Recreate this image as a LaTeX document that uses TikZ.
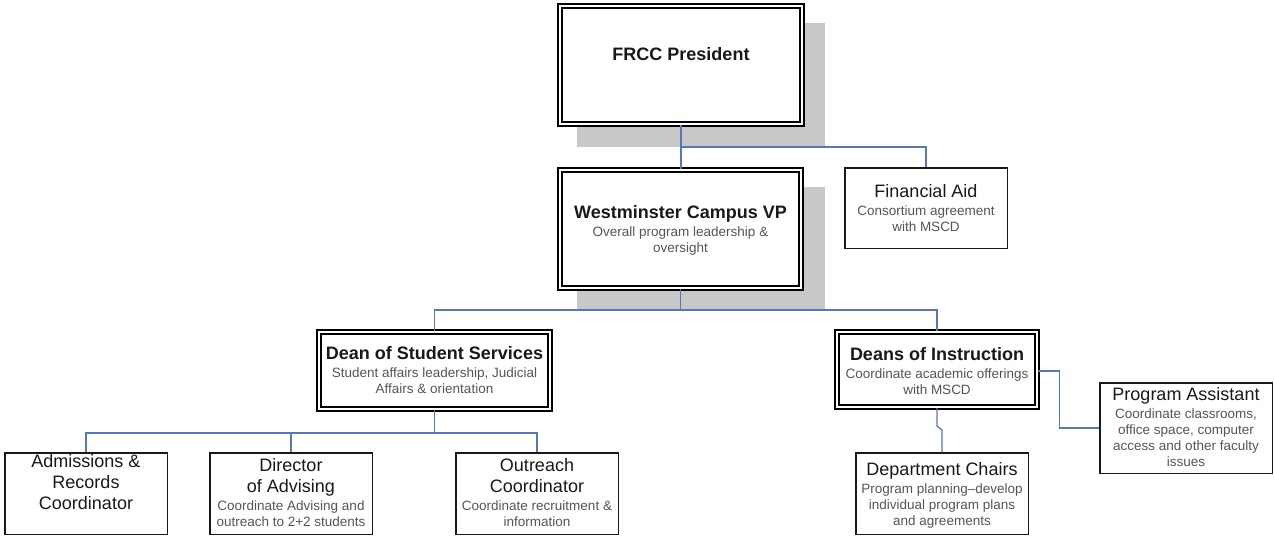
\documentclass[tikz,border=0pt]{standalone}
\usepackage{fontspec}
\setmainfont{Liberation Sans}
\usetikzlibrary{calc}
\definecolor{conncol}{RGB}{84,120,186}
\definecolor{shadowcol}{RGB}{200,200,200}
\definecolor{titlecol}{RGB}{25,25,25}
\definecolor{subgray}{RGB}{85,85,85}
\newcommand\tsz{\fontsize{18}{21}\selectfont}
\newcommand\ssz{\fontsize{13.5}{16}\selectfont}
\newcommand\sub[1]{\textcolor{subgray}{#1}}
\tikzset{
  dblbox/.style={draw=black, fill=white, line width=1.6pt, double=white, double distance=2.4pt, inner sep=0pt},
  sglbox/.style={draw=black!90, fill=white, line width=1.5pt, inner sep=0pt},
  conn/.style={draw=conncol, line width=1.2pt},
  txt/.style={align=center, inner sep=0pt, font=\ssz, text=titlecol},
}
\begin{document}
\begin{tikzpicture}[x=1pt, y=-1pt]
\useasboundingbox (0,0) rectangle (1274,536);
% shadows
\fill[shadowcol] (577,23) rectangle (825,147);
\fill[shadowcol] (577,187) rectangle (825,310);
% boxes (coordinates)
\coordinate (presC) at (681,65);
\coordinate (vpC) at (680.5,229);
% connectors first, boxes drawn over them
\node[dblbox, minimum width=242.4pt, minimum height=118.4pt] (pres) at (681,65) {};
\node[dblbox, minimum width=241.4pt, minimum height=118.4pt] (vp) at (680.5,229) {};
\node[sglbox, minimum width=162.5pt, minimum height=80.5pt] (fa) at (926,208) {};
\node[dblbox, minimum width=231.4pt, minimum height=77.4pt] (dss) at (434.5,370.5) {};
\node[dblbox, minimum width=200.4pt, minimum height=75.4pt] (doi) at (937,369.5) {};
\node[sglbox, minimum width=172.5pt, minimum height=90.5pt] (pa) at (1186,428) {};
\node[sglbox, minimum width=162.5pt, minimum height=81.5pt] (adm) at (86,493.5) {};
\node[sglbox, minimum width=162.5pt, minimum height=81.5pt] (dir) at (291,493.5) {};
\node[sglbox, minimum width=162.5pt, minimum height=81.5pt] (out) at (537,493.5) {};
\node[sglbox, minimum width=172.5pt, minimum height=81.5pt] (dc) at (942,493.5) {};
% connectors
\coordinate (j1) at (681,147);
\coordinate (j2) at (680.5,310);
\coordinate (j3) at (434.5,433);
\draw[conn] (pres.south) -- (pres.south |- vp.north);
\draw[conn] (j1) -| (fa.north);
\draw[conn] (vp.south) -- (j2);
\draw[conn] (dss.north) |- (j2) -| (doi.north);
\draw[conn] (dss.south) -- (j3);
\draw[conn] (adm.north) |- (j3) -| (out.north);
\draw[conn] (dir.north) -- (dir.north |- j3);
\draw[conn] (doi.south) -- ++(0,18) -- ++(5,4) -- (dc.north);
\draw[conn] (doi.east) ++(0,1.5) -- ++(21.8,0) |- (pa.west);
% texts
\node[txt] (presT) at (681,54.5) {{\tsz\bfseries FRCC President}};
\node[txt] (vpT) at (680.5,230) {{\tsz\bfseries Westminster Campus VP}\\[2pt]\sub{Overall program leadership \&}\\\sub{oversight}};
\node[txt] (faT) at (926,208.5) {{\tsz Financial Aid}\\[2pt]\sub{Consortium agreement}\\\sub{with MSCD}};
\node[txt] (dssT) at (434.5,370.5) {{\tsz\bfseries Dean of Student Services}\\[2pt]\sub{Student affairs leadership, Judicial}\\\sub{Affairs \& orientation}};
\node[txt] (doiT) at (937,371) {{\tsz\bfseries Deans of Instruction}\\[2pt]\sub{Coordinate academic offerings}\\\sub{with MSCD}};
\node[txt] (paT) at (1186,427.5) {{\tsz Program Assistant}\\[2pt]\sub{Coordinate classrooms,}\\\sub{office space, computer}\\\sub{access and other faculty}\\\sub{issues}};
\node[txt] (admT) at (86,482.5) {{\tsz Admissions \&}\\[5pt]{\tsz Records}\\[5pt]{\tsz Coordinator}};
\node[txt] (dirT) at (291,493) {{\tsz Director}\\[5pt]{\tsz of Advising}\\[2pt]\sub{Coordinate Advising and}\\\sub{outreach to 2+2 students}};
\node[txt] (outT) at (537,493) {{\tsz Outreach}\\[5pt]{\tsz Coordinator}\\[2pt]\sub{Coordinate recruitment \&}\\\sub{information}};
\node[txt] (dcT) at (942,495) {{\tsz Department Chairs}\\[2pt]\sub{Program planning--develop}\\\sub{individual program plans}\\\sub{and agreements}};
\end{tikzpicture}
\end{document}
